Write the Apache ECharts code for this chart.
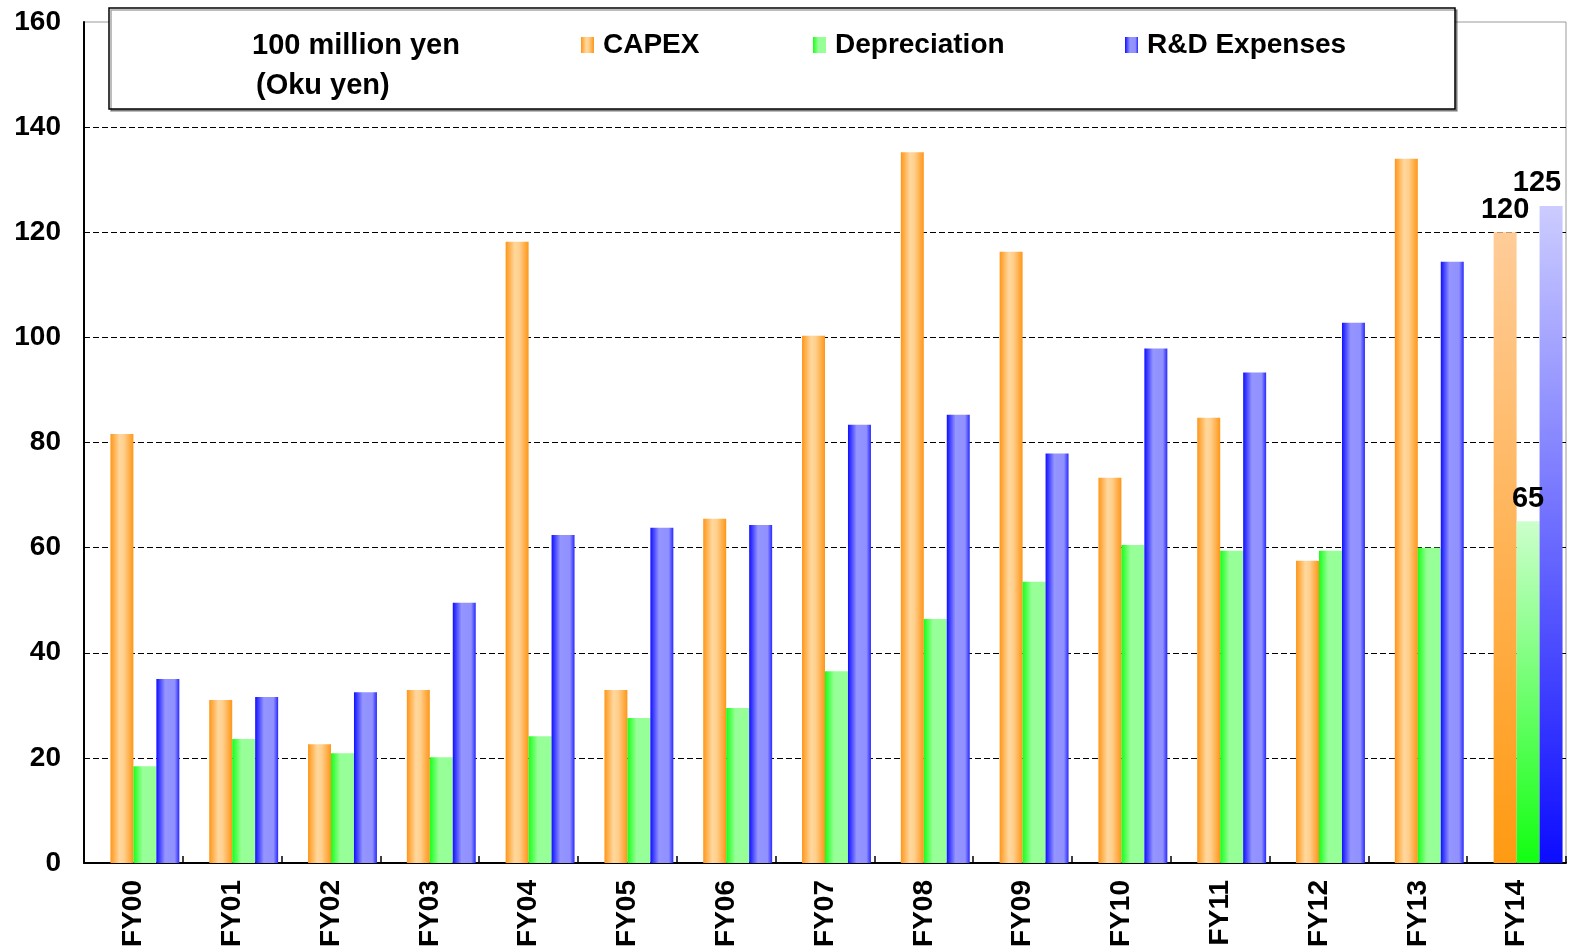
<!DOCTYPE html>
<html>
<head>
<meta charset="utf-8">
<script src="https://cdn.jsdelivr.net/npm/echarts@6/dist/echarts.min.js"></script>
<style>
  html, body { margin: 0; padding: 0; background: #fff; }
  #chart { width: 1571px; height: 951px; }
</style>
</head>
<body>
<div id="chart"></div>
<script>
// Fiscal years shown on the category axis
const years = ['FY00', 'FY01', 'FY02', 'FY03', 'FY04', 'FY05', 'FY06', 'FY07',
               'FY08', 'FY09', 'FY10', 'FY11', 'FY12', 'FY13', 'FY14'];

// Amounts in 100 million yen (oku yen); FY14 is the plan figure
const capex        = [81.6, 31.0, 22.6, 32.9, 118.2, 32.9, 65.5, 100.3, 135.2, 116.3, 73.3, 84.7, 57.5, 134.0, 120];
const depreciation = [18.4, 23.6, 20.9, 20.1, 24.1, 27.6, 29.5, 36.5, 46.4, 53.5, 60.5, 59.4, 59.4, 60.0, 65];
const rdExpenses   = [35.0, 31.6, 32.5, 49.5, 62.4, 63.8, 64.3, 83.4, 85.3, 77.9, 97.9, 93.3, 102.8, 114.4, 125];

const yTicks = [0, 20, 40, 60, 80, 100, 120, 140, 160];

const seriesNames = ['CAPEX', 'Depreciation', 'R&D Expenses'];

const FONT = '"Liberation Sans", Arial, sans-serif';

// Side-lit (cylinder-like) fill for the actual years
function hGrad(stops) {
  return new echarts.graphic.LinearGradient(0, 0, 1, 0,
    stops.map(([o, c]) => ({ offset: o, color: c })));
}
// Pale-top fill for the plan year
function vGrad(top, bottom) {
  return new echarts.graphic.LinearGradient(0, 0, 0, 1,
    [{ offset: 0, color: top }, { offset: 1, color: bottom }]);
}

const styles = {
  CAPEX: {
    fill: hGrad([[0, '#FF9618'], [0.4, '#FFD89E'], [0.6, '#FFCF8C'], [1, '#FF9618']]),
    plan: vGrad('#FFCC98', '#FF9A12')
  },
  Depreciation: {
    fill: hGrad([[0, '#18FF18'], [0.4, '#98FF98'], [1, '#96FF96']]),
    plan: vGrad('#CCFFCC', '#12FF12')
  },
  'R&D Expenses': {
    fill: hGrad([[0, '#1010FF'], [0.38, '#9595FF'], [0.8, '#9090FF'], [1, '#2828FF']]),
    plan: vGrad('#CCCCFF', '#0C0CFF')
  }
};

const last = years.length - 1;

function buildSeries(name, values, labelOffset) {
  const st = styles[name];
  return {
    name: name,
    type: 'bar',
    itemStyle: { color: st.fill },
    data: values.map((v, i) => i === last ? {
      value: v,
      itemStyle: { color: st.plan },
      label: {
        show: true,
        position: 'top',
        distance: 8,
        offset: labelOffset,
        color: '#000',
        fontFamily: FONT,
        fontWeight: 'bold',
        fontSize: 29
      }
    } : v)
  };
}

// one legend block per series, each pinned to its own spot in the key box
const legendLefts = [581, 813, 1125];
const legends = seriesNames.map((name, i) => ({
  data: [name],
  left: legendLefts[i],
  top: 31,
  icon: 'rect',
  itemWidth: 13,
  itemHeight: 16,
  z: 20,
  padding: 0,
  textStyle: {
    color: '#000',
    fontFamily: FONT,
    fontWeight: 'bold',
    fontSize: 28,
    padding: [0, 0, 0, 4]
  }
}));

const chart = echarts.init(document.getElementById('chart'), null, { renderer: 'canvas' });

chart.setOption({
  backgroundColor: '#fff',
  animation: false,
  grid: {
    left: 84, right: 5, top: 22, bottom: 88,
    show: true,
    borderColor: '#9a9a9a',
    borderWidth: 1,
    backgroundColor: 'transparent'
  },
  legend: legends,
  xAxis: {
    type: 'category',
    data: years,
    axisLine: { lineStyle: { color: '#000', width: 2 } },
    axisTick: { show: true, inside: true, length: 7, lineStyle: { color: '#000', width: 1.5 } },
    axisLabel: {
      interval: 0,
      rotate: 90,
      margin: 17,
      color: '#000',
      fontFamily: FONT,
      fontWeight: 'bold',
      fontSize: 28
    }
  },
  yAxis: {
    type: 'value',
    min: yTicks[0],
    max: yTicks[yTicks.length - 1],
    interval: yTicks[1] - yTicks[0],
    axisLine: { show: true, lineStyle: { color: '#000', width: 2 } },
    axisTick: { show: false },
    axisLabel: {
      margin: 23,
      color: '#000',
      fontFamily: FONT,
      fontWeight: 'bold',
      fontSize: 28
    },
    splitLine: {
      show: true,
      showMinLine: false,
      showMaxLine: false,
      lineStyle: { color: '#000', type: [6, 3], width: 1 }
    }
  },
  series: [
    // empty leading slot in each category group
    { name: 'slot', type: 'bar', data: years.map(() => null), barGap: '0%', barCategoryGap: '7%' },
    buildSeries('CAPEX', capex, [0, 0]),
    buildSeries('Depreciation', depreciation, [0, 0]),
    buildSeries('R&D Expenses', rdExpenses, [-14, 0])
  ],
  graphic: [
    {
      type: 'rect',
      z: 10,
      shape: { x: 109, y: 8, width: 1346, height: 101 },
      style: {
        fill: '#fff',
        stroke: '#000',
        lineWidth: 1.5,
        shadowColor: 'rgba(0,0,0,0.35)',
        shadowOffsetX: 2,
        shadowOffsetY: 2,
        shadowBlur: 0
      }
    },
    {
      type: 'text',
      z: 11,
      left: 252,
      top: 31,
      style: {
        text: '100 million yen',
        fill: '#000',
        font: 'bold 29px ' + FONT
      }
    },
    {
      type: 'text',
      z: 11,
      left: 256,
      top: 71,
      style: {
        text: '(Oku yen)',
        fill: '#000',
        font: 'bold 29px ' + FONT
      }
    }
  ]
});
</script>
</body>
</html>
